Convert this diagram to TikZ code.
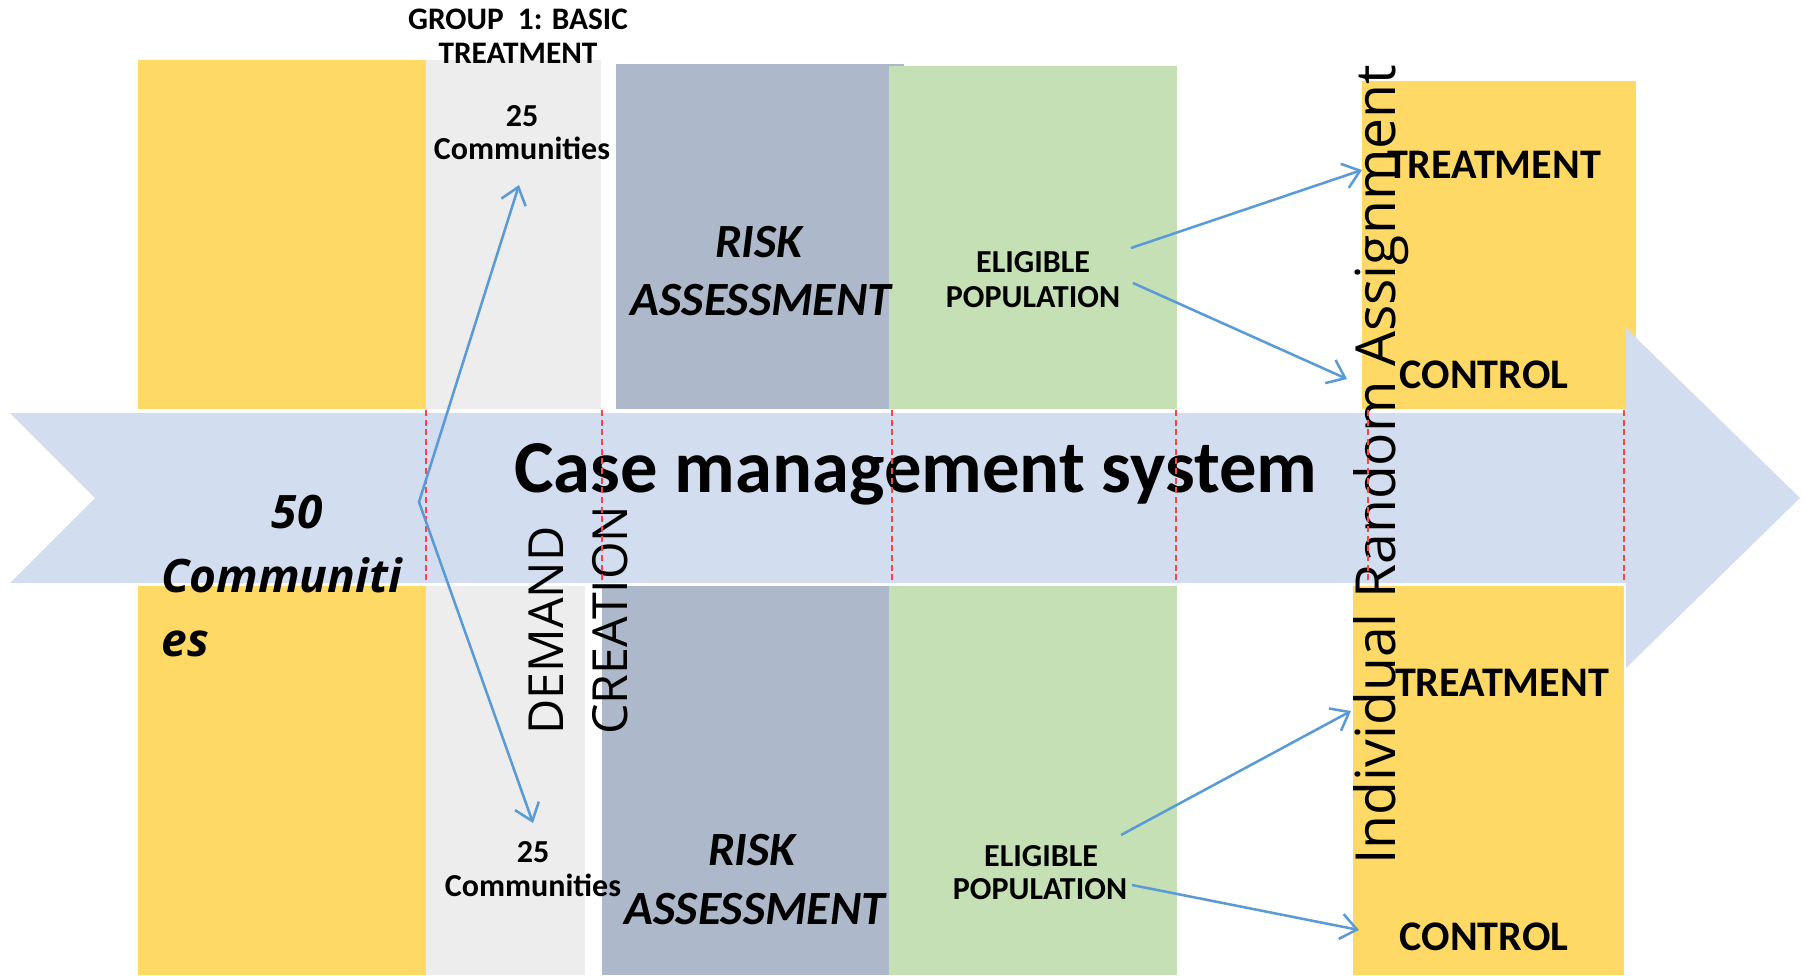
\documentclass[tikz,border=0pt]{standalone}
\usepackage{fontspec}
\setmainfont{Carlito}
\newfontfamily\osfont{Open Sans}
\usetikzlibrary{arrows.meta}
\definecolor{cyellow}{HTML}{FFD966}
\definecolor{cgray}{HTML}{EDEDED}
\definecolor{cslate}{HTML}{ADB9CA}
\definecolor{cgreen}{HTML}{C5E0B4}
\definecolor{cband}{HTML}{D2DEEF}
\definecolor{carrow}{HTML}{5B9BD5}
\definecolor{cred}{HTML}{F04848}
\newcommand\fsz[1]{\fontsize{#1}{#1}\selectfont}
\begin{document}
\begin{tikzpicture}[x=0.43411pt,y=-0.43411pt,
  lbl/.style={inner sep=0pt, anchor=base, font=\bfseries},
  rot/.style={inner sep=0pt, anchor=base west, rotate=90, font=\osfont},
  arr/.style={draw=carrow, line width=1.1pt, -{Straight Barb[length=7pt,width=11pt]}},
  sepline/.style={draw=cred, line width=0.6pt, dash pattern=on 2.6pt off 1.6pt}]
\useasboundingbox (0,0) rectangle (1806,975);
% top row
\fill[cyellow] (138,60) rectangle (426,409);
\fill[cgray] (426,60) rectangle (601,409);
\fill[cslate] (616,64) rectangle (904,409);
\fill[cgreen] (889,66) rectangle (1177,409);
\fill[cyellow] (1362,81) rectangle (1636,409);
% bottom row
\fill[cyellow] (138,586) rectangle (426,975);
\fill[cgray] (426,586) rectangle (585,975);
\fill[cslate] (602,586) rectangle (889,975);
\fill[cgreen] (889,586) rectangle (1177,975);
\fill[cyellow] (1353,586) rectangle (1624,975);
% band arrow
\fill[cband] (10,413) -- (1626,413) -- (1626,328) -- (1800,498) -- (1626,668)
  -- (1626,583) -- (10,583) -- (95,498) -- cycle;
% texts
\node[lbl, font=\bfseries\fsz{13.6}] (g1) at (518,29) {GROUP\ \ 1: BASIC};
\node[lbl, font=\bfseries\fsz{13.6}] (g2) at (518,63) {TREATMENT};
\node[lbl, font=\bfseries\fsz{13.9}] (t25a) at (522,126) {25};
\node[lbl, font=\bfseries\fsz{13.9}] (t25b) at (522,159) {Communities};
\node[lbl, font=\bfseries\itshape\fsz{20.7}] (risk1) at (759,257) {RISK};
\node[lbl, font=\bfseries\itshape\fsz{20.7}] (risk2) at (761,315) {ASSESSMENT};
\node[lbl, font=\bfseries\fsz{13.9}] (el1) at (1033,272) {ELIGIBLE};
\node[lbl, font=\bfseries\fsz{13.9}] (el2) at (1033,307) {POPULATION};
\node[lbl, font=\bfseries\fsz{18.3}] (tr1) at (1494,178) {TREATMENT};
\node[lbl, font=\bfseries\fsz{18.3}] (co1) at (1484,388) {CONTROL};
\node[lbl, font=\bfseries\fsz{32.4}] (cms) at (916,492) {Case management system};
\node[inner sep=0pt, anchor=base, font=\osfont\bfseries\itshape\fsz{20}] (c50) at (297,528) {50};
\node[inner sep=0pt, anchor=base west, font=\osfont\bfseries\itshape\fsz{20}] (c50b) at (161,592) {Communiti};
\node[inner sep=0pt, anchor=base west, font=\osfont\bfseries\itshape\fsz{20}] (c50c) at (161,656) {es};
\node[rot, font=\osfont\fsz{21}] (dem) at (563,735) {DEMAND};
\node[rot, font=\osfont\fsz{21}] (cre) at (627,735) {CREATION};
\node[lbl, font=\bfseries\fsz{13.9}] (b25a) at (533,862) {25};
\node[lbl, font=\bfseries\fsz{13.9}] (b25b) at (533,896) {Communities};
\node[lbl, font=\bfseries\itshape\fsz{20.7}] (brisk1) at (752,865) {RISK};
\node[lbl, font=\bfseries\itshape\fsz{20.7}] (brisk2) at (755,924) {ASSESSMENT};
\node[lbl, font=\bfseries\fsz{13.9}] (bel1) at (1041,866) {ELIGIBLE};
\node[lbl, font=\bfseries\fsz{13.9}] (bel2) at (1040,899) {POPULATION};
\node[lbl, font=\bfseries\fsz{18.3}] (tr2) at (1502,696) {TREATMENT};
\node[lbl, font=\bfseries\fsz{18.3}] (co2) at (1484,950) {CONTROL};
\node[rot, font=\osfont\fsz{24}] (ira) at (1395,865) {Individual Random Assignment};
% dashed separators
\foreach \xx in {426,602,892,1176,1368,1624}
  \draw[sepline] (\xx,410) -- (\xx,582);
% arrows
\coordinate (split) at (419,502);
\coordinate (upTip) at (519,185);
\coordinate (downTip) at (533,823);
\coordinate (e1a) at (1131,248);
\coordinate (t1) at (1362,170);
\coordinate (e1b) at (1133,283);
\coordinate (c1) at (1347,379);
\coordinate (e2a) at (1121,835);
\coordinate (t2) at (1351,711);
\coordinate (e2b) at (1132,885);
\coordinate (c2) at (1359,930);
\draw[arr, {Straight Barb[length=7pt,width=11pt]}-{Straight Barb[length=7pt,width=11pt]}] (upTip) -- (split) -- (downTip);
\draw[arr] (e1a) -- (t1);
\draw[arr] (e1b) -- (c1);
\draw[arr] (e2a) -- (t2);
\draw[arr] (e2b) -- (c2);
\end{tikzpicture}
\end{document}
